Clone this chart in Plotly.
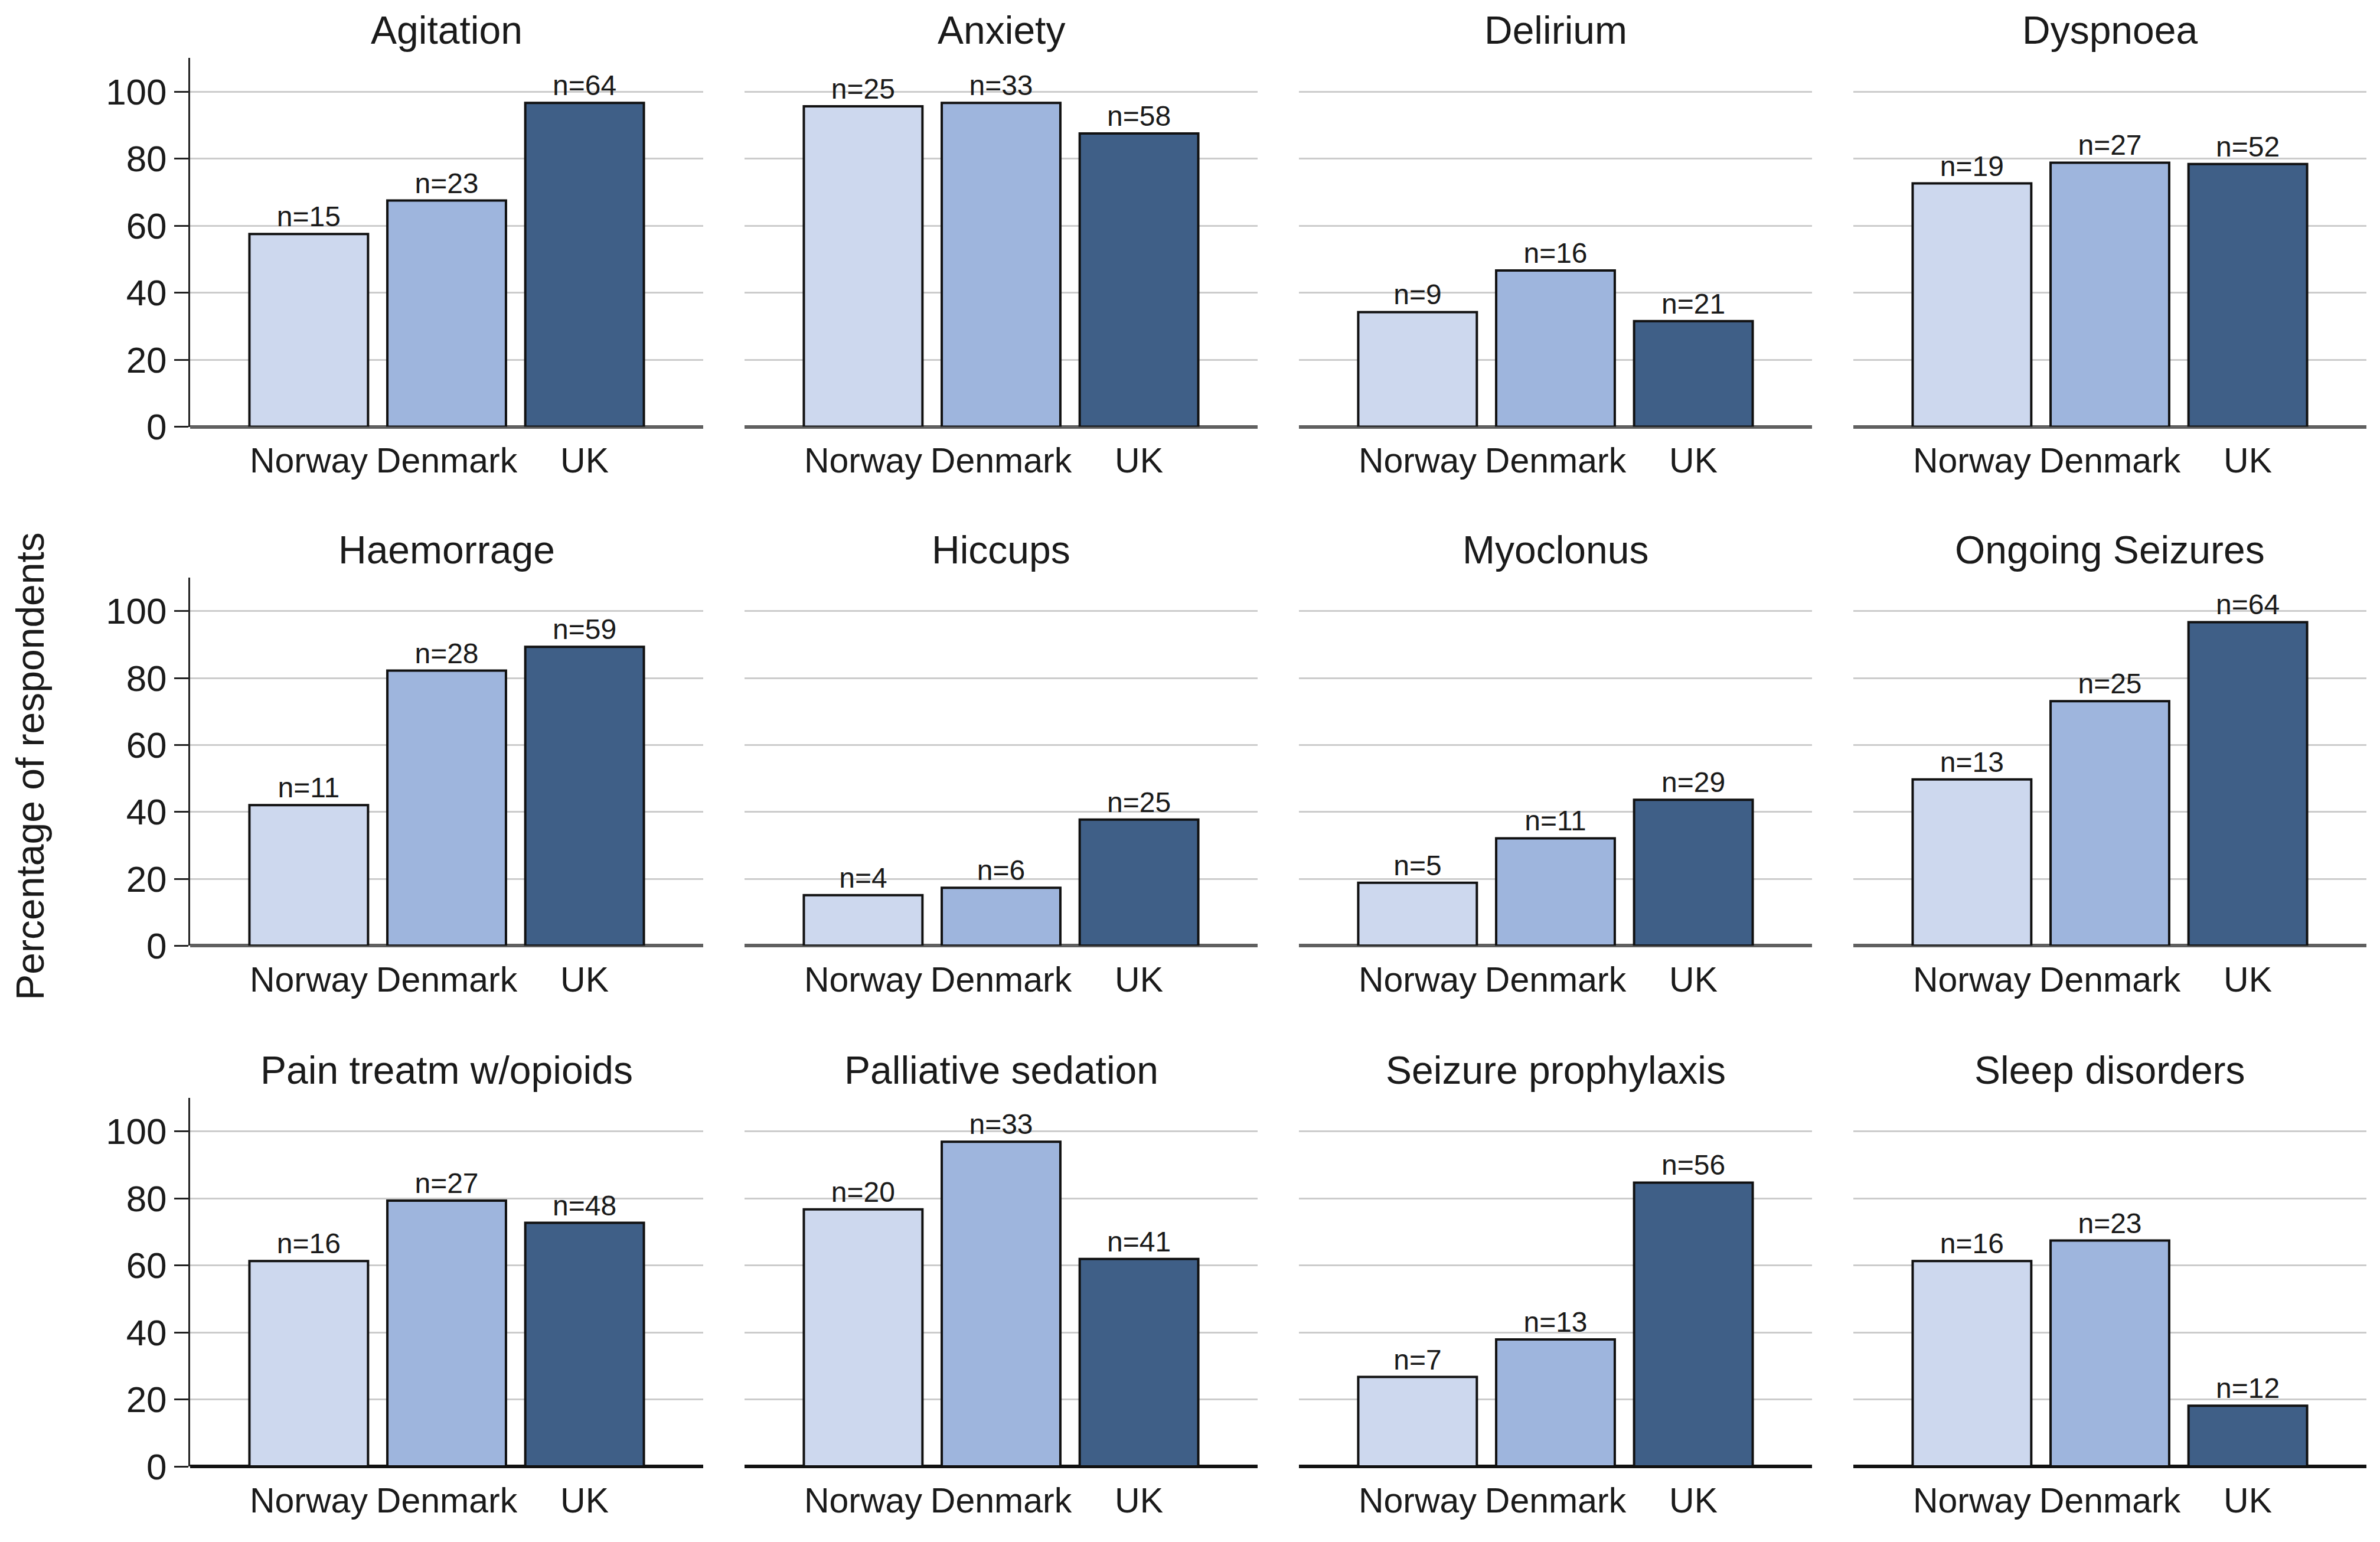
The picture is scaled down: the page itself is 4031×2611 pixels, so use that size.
import plotly.graph_objects as go

countries = ["Norway", "Denmark", "UK"]
symptoms = ["Agitation", "Anxiety", "Delirium", "Dyspnoea",
            "Haemorrage", "Hiccups", "Myoclonus", "Ongoing Seizures",
            "Pain treatm w/opioids", "Palliative sedation", "Seizure prophylaxis", "Sleep disorders"]
norway_pct = [57.5, 95.6, 34.2, 72.6, 42.0, 15.1, 18.8, 49.7, 61.3, 76.7, 26.7, 61.3]
denmark_pct = [67.5, 96.6, 46.6, 78.8, 82.2, 17.3, 32.1, 73.1, 79.3, 96.9, 37.9, 67.4]
uk_pct = [96.6, 87.5, 31.5, 78.4, 89.3, 37.7, 43.6, 96.7, 72.7, 61.9, 84.7, 18.1]
norway_n = [15, 25, 9, 19, 11, 4, 5, 13, 16, 20, 7, 16]
denmark_n = [23, 33, 16, 27, 28, 6, 11, 25, 27, 33, 13, 23]
uk_n = [64, 58, 21, 52, 59, 25, 29, 64, 48, 41, 56, 12]
y_ticks = [0, 20, 40, 60, 80, 100]

colors = ["#CDD8EE", "#9EB5DD", "#3F5F87"]
FONT = "Liberation Sans, Arial, sans-serif"
OFF = 8  # page body margin
W, H = 4031 - 2 * OFF, 2611 - 2 * OFF
VS = 1.0157  # vertical correction

col_px = [(322, 1191), (1261, 2130), (2200, 3069), (3139, 4008)]
row_px = [(99, 722), (977, 1599), (1856, 2479)]


def px_x(v):
    return (v - OFF) / W


def px_y(v):
    return 1 - (v * VS - 1 - OFF) / H


fig = go.Figure()
layout = dict(
    width=W, height=H,
    margin=dict(l=0, r=0, t=0, b=0),
    paper_bgcolor="white", plot_bgcolor="white",
    showlegend=False,
    font=dict(family=FONT, color="#1a1a1a"),
    annotations=[],
)

for i, name in enumerate(symptoms):
    r, c = divmod(i, 4)
    k = i + 1
    xa = "x" if k == 1 else f"x{k}"
    ya = "y" if k == 1 else f"y{k}"
    vals = [norway_pct[i], denmark_pct[i], uk_pct[i]]
    ns = [norway_n[i], denmark_n[i], uk_n[i]]
    fig.add_trace(go.Bar(
        x=countries, y=vals, xaxis=xa, yaxis=ya,
        marker=dict(color=colors, line=dict(color="#111111", width=4)),
        width=0.86,
        text=[f"n={n}" for n in ns], textposition="outside",
        textfont=dict(family=FONT, size=48, color="#1a1a1a"),
        cliponaxis=False, hoverinfo="skip",
    ))
    x0, x1 = col_px[c]
    y0, y1 = row_px[r]
    xdom = [px_x(x0), px_x(x1)]
    ydom = [px_y(y1), px_y(y0)]
    xkey = "xaxis" if k == 1 else f"xaxis{k}"
    ykey = "yaxis" if k == 1 else f"yaxis{k}"
    layout[xkey] = dict(
        domain=xdom, anchor=ya, range=[-0.86, 2.86],
        showgrid=False, zeroline=False, showline=False,
        ticks="outside", ticklen=6, tickcolor="rgba(0,0,0,0)",
        tickfont=dict(family=FONT, size=59, color="#1a1a1a"),
    )
    zc = "#111111" if r == 2 else "#606060"
    layout[ykey] = dict(
        domain=ydom, anchor=xa, range=[0, 110],
        tickvals=y_ticks,
        showgrid=True, gridcolor="#CCCCCC", gridwidth=3,
        zeroline=True, zerolinecolor=zc, zerolinewidth=6,
        showticklabels=(c == 0),
        showline=(c == 0), linecolor="#222222", linewidth=3,
        ticks="outside" if c == 0 else "", ticklen=24, tickwidth=3, tickcolor="#222222",
        tickfont=dict(family=FONT, size=62, color="#1a1a1a"),
    )
    layout["annotations"].append(dict(
        text=name, x=(xdom[0] + xdom[1]) / 2, y=ydom[1],
        xref="paper", yref="paper", xanchor="center", yanchor="middle",
        yshift=47, showarrow=False,
        font=dict(family=FONT, size=66, color="#1a1a1a"),
    ))

layout["annotations"].append(dict(
    text="Percentage of respondents", x=px_x(51), y=px_y(1296),
    xref="paper", yref="paper", xanchor="center", yanchor="middle",
    textangle=-90, showarrow=False,
    font=dict(family=FONT, size=66, color="#1a1a1a"),
))

fig.update_layout(**layout)
fig.write_html("out.html")
